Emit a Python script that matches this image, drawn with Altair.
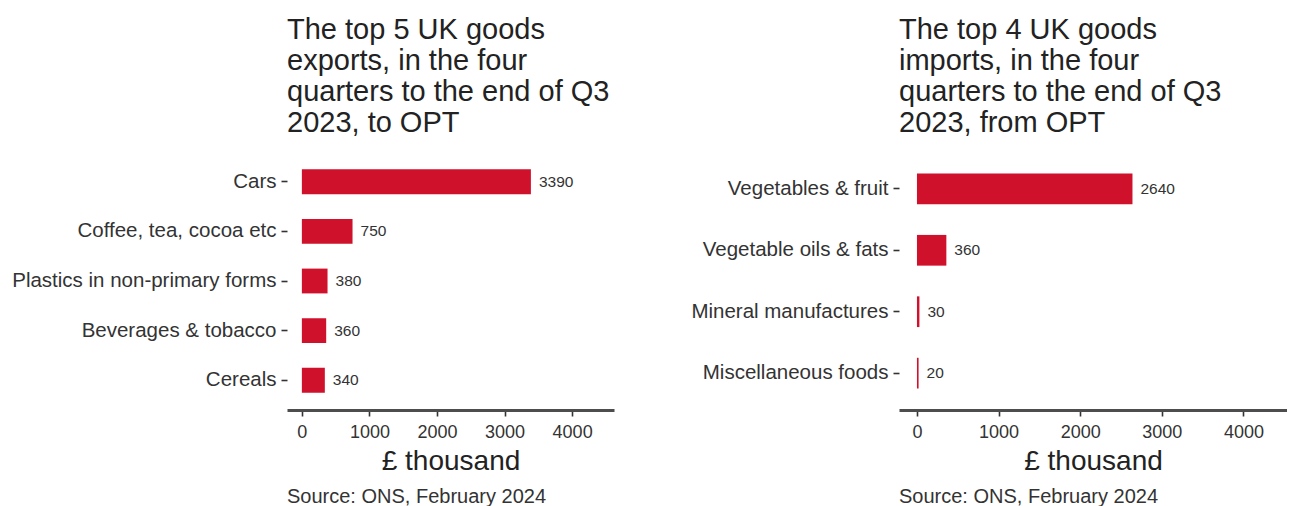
import altair as alt
import pandas as pd

exp_cats = ["Cars", "Coffee, tea, cocoa etc", "Plastics in non-primary forms",
            "Beverages & tobacco", "Cereals"]
exp_vals = [3390, 750, 380, 360, 340]
imp_cats = ["Vegetables & fruit", "Vegetable oils & fats",
            "Mineral manufactures", "Miscellaneous foods"]
imp_vals = [2640, 360, 30, 20]
tick_vals = [0, 1000, 2000, 3000, 4000]

exp_title = ["The top 5 UK goods", "exports, in the four",
             "quarters to the end of Q3", "2023, to OPT"]
imp_title = ["The top 4 UK goods", "imports, in the four",
             "quarters to the end of Q3", "2023, from OPT"]
source = "Source: ONS, February 2024"
x_title = "£ thousand"

FONT = "Liberation Sans"
BAR = "#d0112b"
H = 258


def panel(cats, vals, title, width, xmax):
    df = pd.DataFrame({"cat": cats, "val": vals})
    base = alt.Chart(df)
    y_axis = alt.Axis(domain=False, ticks=True, tickSize=6, tickColor="#333",
                      tickWidth=1.6, labelFont=FONT, labelFontSize=20.5,
                      labelColor="#333", labelPadding=5, labelLimit=400)
    x_axis = alt.Axis(values=tick_vals, format="d", grid=False, domain=True,
                      domainColor="#4d4d4d", domainWidth=3,
                      tickColor="#333", tickSize=6, tickWidth=1.6,
                      labelFont=FONT, labelFontSize=18, labelColor="#333",
                      labelPadding=7, titleFont=FONT, titleFontSize=28,
                      titleFontWeight="normal", titleColor="#222",
                      titlePadding=6)
    xscale = alt.Scale(domain=[-220, xmax], nice=False, zero=False)
    yscale = alt.Scale(paddingInner=0.5, paddingOuter=0.35)
    bars = base.mark_bar(color=BAR).encode(
        x=alt.X("val:Q", title=x_title, scale=xscale, axis=x_axis),
        x2=alt.datum(0),
        y=alt.Y("cat:N", sort=cats, title=None, scale=yscale, axis=y_axis))
    labels = base.mark_text(align="left", baseline="middle", dx=8, font=FONT,
                            fontSize=15.5, color="#333").encode(
        x=alt.X("val:Q"), y=alt.Y("cat:N", sort=cats), text="val:Q")
    src = alt.Chart(pd.DataFrame({"s": [source]})).mark_text(
        align="left", baseline="alphabetic", font=FONT, fontSize=20,
        color="#333").encode(x=alt.value(0), y=alt.value(H + 93), text="s:N")
    return alt.layer(bars, labels, src).properties(
        width=width, height=H,
        title=alt.TitleParams(title, anchor="start", frame="group", font=FONT,
                              fontSize=29, fontWeight="normal", color="#222",
                              lineHeight=31, offset=14))


left = panel(exp_cats, exp_vals, exp_title, 327, 4620)
right = panel(imp_cats, imp_vals, imp_title, 388, 4533)

chart = alt.hconcat(left, right, spacing=76).properties(
    padding={"left": 3, "top": 8, "right": 0, "bottom": 0}
).configure_view(stroke=None)

chart.save("out.html", embed_options={"renderer": "svg", "actions": False})
